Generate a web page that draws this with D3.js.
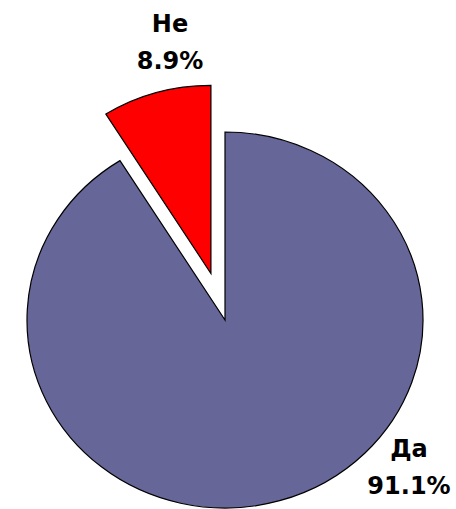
<!DOCTYPE html>
<html lang="ru">
<head>
  <meta charset="UTF-8">
  <title>Pie</title>
  <style>
    body { margin: 0; background: #fff; }
  </style>
</head>
<body>
    <script src="https://cdn.jsdelivr.net/npm/d3@7"></script>
    <script>
      const width = 456
      const height = 509

      const labels = ["Да", "Не"]
      const values = [91.1, 8.9]
      const colors = ["#666699", "#ff0000"]
      const exploded = [0, 51]

      const svg = d3.select("body")
        .append("svg")
        .attr("width", width)
        .attr("height", height)

      const rx = 198, ry = 188
      const cx = 225, cy = 320

      const pie = d3.pie().sort(null).value(d => d)
      const arcs = pie(values)
      const arc = d3.arc().innerRadius(0).outerRadius(rx)

      // pie is a bit squashed vertically
      const g = svg.append("g")
        .attr("transform", "translate(" + cx + "," + cy + ") scale(1," + (ry / rx) + ")")

      g.selectAll("path")
        .data(arcs)
        .enter()
        .append("path")
        .attr("d", arc)
        .attr("fill", (d, i) => colors[i])
        .attr("stroke", "#000")
        .attr("stroke-width", 1.2)
        .attr("vector-effect", "non-scaling-stroke")
        .attr("transform", (d, i) => {
          const a = (d.startAngle + d.endAngle) / 2
          const off = exploded[i]
          return "translate(" + (Math.sin(a) * off) + "," + (-Math.cos(a) * off) + ")"
        })

      // label positions
      const labelPos = [[409, 457], [170, 32]]
      arcs.forEach((d, i) => {
        const t = svg.append("text")
          .attr("x", labelPos[i][0])
          .attr("y", labelPos[i][1])
          .attr("text-anchor", "middle")
          .style("font-family", "DejaVu Sans")
          .style("font-weight", "bold")
          .style("font-size", "24px")
        t.append("tspan").attr("x", labelPos[i][0]).text(labels[i])
        t.append("tspan").attr("x", labelPos[i][0]).attr("dy", 37)
          .text(values[i].toFixed(1) + "%")
      })
    </script>
</body>
</html>
